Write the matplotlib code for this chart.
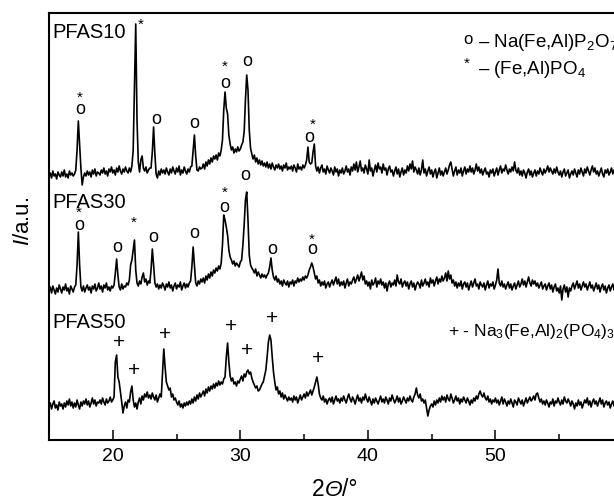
import numpy as np
import matplotlib
matplotlib.use('Agg')
import matplotlib.pyplot as plt
from matplotlib.ticker import MultipleLocator, FixedLocator

plt.rcParams['font.family'] = 'Liberation Sans'
plt.rcParams['mathtext.fontset'] = 'custom'
plt.rcParams['mathtext.rm'] = 'Liberation Sans'
plt.rcParams['mathtext.it'] = 'Liberation Sans:italic'

# scan 15-60 deg, step 0.1 deg
two_theta = np.linspace(15, 60, 451)

pfas10 = [
    3, 7, 2, 9, 4, 6, 1, 8, 5, 3,
    8, 4, 10, 3, 6, 2, 9, 5, 7, 4,
    6, 10, 30, 59, 35, 12, -5, 3, 7, 4,
    9, 5, 8, 3, 10, 6, 11, 4, 8, 7,
    5, 10, 7, 12, 6, 9, 4, 11, 8, 13,
    7, 10, 5, 12, 8, 14, 9, 6, 11, 8,
    13, 9, 7, 12, 8, 14, 30, 95, 156, 60,
    18, 8, 20, 24, 12, 9, 13, 7, 10, 12,
    12, 28, 53, 26, 6, 2, 9, 5, 11, 7,
    10, 6, 12, 8, 5, 11, 7, 13, 9, 6,
    12, 8, 14, 5, 10, 7, 13, 9, 6, 11,
    8, 13, 14, 30, 45, 24, 10, 9, 13, 11,
    12, 16, 11, 18, 14, 20, 16, 22, 18, 24,
    21, 25, 20, 27, 24, 30, 40, 70, 88, 72,
    66, 45, 36, 30, 33, 27, 31, 28, 33, 29,
    31, 35, 38, 48, 80, 105, 90, 50, 32, 26,
    21, 25, 18, 22, 16, 20, 15, 19, 14, 17,
    13, 18, 12, 16, 11, 17, 13, 10, 15, 12,
    16, 11, 14, 9, 15, 12, 17, 10, 13, 11,
    14, 9, 15, 12, 8, 16, 11, 13, 10, 15,
    12, 15, 20, 33, 18, 16, 17, 28, 36, 14,
    9, 13, 7, 12, 15, 8, 11, 6, 14, 10,
    7, 12, 9, 5, 13, 8, 11, 4, 10, 7,
    12, 6, 9, 14, 8, 11, 5, 13, 9, 16,
    10, 18, 8, 13, 19, 9, 12, 7, 15, 11,
    6, 20, 9, 12, 4, 10, 15, 8, 17, 11,
    13, 7, 16, 10, 12, 5, 11, 14, 8, 10,
    4, 9, 13, 6, 11, 3, 8, 12, 5, 10,
    7, 14, 9, 16, 11, 19, 8, 13, 10, 6,
    12, 5, 10, 20, 7, 11, 4, 9, 13, 6,
    10, 3, 8, 11, 2, 7, 12, 5, 9, 4,
    8, 12, 6, 10, 15, 18, 11, 4, 9, 13,
    5, 10, 7, 12, 4, 9, 13, 6, 11, 8,
    14, 8, 12, 6, 10, 16, 9, 13, 7, 11,
    5, 9, 12, 6, 8, 3, 10, 7, 11, 4,
    8, 12, 5, 10, 14, 7, 11, 9, 15, 10,
    6, 11, 8, 13, 9, 18, 10, 7, 12, 5,
    9, 4, 10, 7, 2, 8, 11, 5, 9, 3,
    7, 10, 4, 9, 6, 12, 8, 5, 11, 7,
    10, 14, 8, 12, 9, 6, 11, 7, 13, 8,
    5, 9, 3, 8, 11, 4, 7, 10, 2, 6,
    9, 5, 11, 7, 3, 10, 6, 12, 8, 4,
    11, 7, 13, 9, 5, 10, 14, 8, 12, 6,
    9, 4, 8, 12, 6, 3, 10, 7, 11, 5,
    8, 12, 6, 10, 4, 9, 7, 11, 5, 8,
    9,
]

pfas30 = [
    4, 8, 2, 9, 5, 1, 7, 3, 10, 6,
    2, 8, 5, 11, 4, 7, 1, 9, 6, 3,
    8, 10, 30, 63, 30, 8, 4, 9, 3, 7,
    10, 5, 8, 2, 9, 6, 11, 4, 7, 12,
    6, 9, 3, 10, 7, 12, 5, 8, 4, 9,
    7, 10, 22, 36, 20, 8, 5, 11, 6, 9,
    8, 12, 10, 15, 30, 35, 45, 55, 25, 12,
    9, 14, 11, 18, 22, 13, 16, 10, 14, 12,
    25, 46, 30, 12, 8, 11, 6, 10, 7, 12,
    9, 5, 11, 8, 13, 7, 10, 4, 9, 12,
    6, 10, 8, 13, 5, 9, 12, 7, 11, 8,
    12, 14, 28, 48, 30, 12, 9, 14, 11, 16,
    13, 17, 12, 19, 15, 21, 17, 23, 19, 25,
    22, 27, 24, 29, 26, 32, 50, 80, 75, 68,
    60, 45, 38, 35, 31, 34, 29, 32, 30, 28,
    33, 35, 50, 70, 95, 103, 75, 40, 30, 27,
    25, 22, 26, 19, 23, 20, 17, 21, 18, 20,
    17, 20, 22, 28, 37, 25, 18, 15, 19, 13,
    16, 11, 14, 9, 15, 12, 10, 14, 8, 13,
    11, 15, 9, 14, 12, 17, 13, 16, 14, 18,
    15, 19, 17, 20, 25, 28, 32, 28, 22, 16,
    19, 12, 15, 9, 13, 10, 14, 7, 11, 13,
    8, 12, 15, 10, 14, 18, 11, 16, 9, 13,
    10, 14, 7, 12, 16, 9, 13, 11, 15, 18,
    12, 16, 20, 14, 18, 23, 15, 19, 11, 14,
    9, 13, 6, 15, 10, 12, 17, 8, 14, 11,
    16, 10, 13, 7, 12, 4, 11, 14, 8, 12,
    10, 15, 9, 20, 13, 11, 16, 8, 12, 14,
    9, 13, 6, 11, 14, 8, 12, 5, 10, 13,
    11, 7, 15, 9, 12, 16, 10, 13, 8, 17,
    12, 15, 9, 14, 18, 11, 16, 13, 19, 14,
    17, 22, 14, 24, 16, 20, 12, 15, 9, 13,
    7, 12, 9, 14, 6, 11, 13, 8, 12, 5,
    10, 14, 8, 12, 16, 9, 11, 6, 13, 10,
    8, 12, 5, 10, 14, 7, 11, 9, 13, 6,
    10, 15, 26, 12, 9, 14, 8, 11, 6, 10,
    13, 7, 11, 5, 9, 12, 6, 10, 14, 8,
    11, 16, 10, 14, 8, 13, 18, 12, 9, 15,
    11, 14, 9, 12, 7, 10, 13, 6, 9, 11,
    5, 9, 12, 6, 10, 3, 8, 11, 4, 7,
    2, 9, -5, 6, 10, 3, 8, -2, 7, 4,
    9, 12, 6, 10, 14, 7, 11, 5, 9, 13,
    8, 11, 5, 9, 13, 7, 10, 4, 8, 12,
    6, 10, 3, 8, 11, 5, 9, 2, 7, 10,
    4, 8, 11, 5, 9, 2, 7, 10, 3, 6,
    8,
]

pfas50 = [
    5, 9, 3, 8, 11, 4, 7, 2, 10, 6,
    8, 3, 9, 5, 11, 7, 13, 6, 10, 4,
    9, 5, 12, 7, 3, 10, 6, 11, 8, 13,
    7, 11, 5, 9, 14, 8, 12, 6, 10, 9,
    12, 8, 14, 10, 7, 13, 9, 11, 15, 10,
    12, 15, 50, 57, 35, 30, 20, 10, -1, 6,
    10, 4, 12, 10, 20, 26, 12, 5, 9, 3,
    10, 14, 8, 16, 12, 18, 15, 20, 14, 17,
    13, 19, 15, 12, 17, 10, 14, 18, 15, 40,
    63, 45, 30, 26, 22, 24, 15, 18, 12, 14,
    10, 7, 11, 5, 8, 4, 9, 6, 10, 7,
    11, 8, 13, 9, 15, 11, 17, 13, 19, 15,
    18, 21, 16, 23, 19, 25, 21, 26, 23, 28,
    24, 29, 26, 31, 27, 30, 28, 33, 35, 55,
    69, 50, 36, 31, 34, 28, 30, 26, 31, 29,
    33, 36, 31, 38, 35, 40, 42, 38, 40, 34,
    30, 27, 24, 26, 21, 22, 25, 28, 30, 36,
    42, 55, 70, 77, 72, 55, 40, 30, 22, 25,
    18, 21, 15, 19, 13, 17, 14, 11, 15, 12,
    14, 10, 16, 12, 15, 9, 13, 17, 12, 15,
    18, 14, 20, 16, 19, 22, 17, 21, 25, 30,
    35, 28, 18, 14, 12, 16, 10, 13, 8, 12,
    14, 10, 15, 8, 12, 16, 11, 13, 9, 14,
    11, 16, 12, 9, 14, 18, 13, 10, 15, 12,
    8, 13, 17, 11, 14, 9, 15, 12, 18, 13,
    10, 15, 11, 7, 13, 9, 14, 11, 8, 12,
    16, 10, 13, 9, 15, 12, 8, 14, 11, 17,
    13, 9, 12, 16, 10, 14, 8, 11, 15, 12,
    9, 14, 11, 16, 12, 10, 15, 18, 24, 17,
    14, 18, 11, 13, 9, 12, 4, -4, 2, 6,
    8, 5, 11, 7, 12, 9, 14, 10, 16, 12,
    15, 10, 17, 13, 11, 18, 14, 9, 12, 16,
    11, 14, 8, 13, 10, 15, 12, 9, 14, 11,
    7, 12, 9, 14, 11, 16, 13, 18, 21, 17,
    15, 19, 14, 12, 16, 10, 13, 8, 12, 10,
    14, 9, 12, 7, 11, 15, 8, 13, 10, 6,
    11, 8, 13, 9, 5, 12, 10, 7, 14, 11,
    8, 12, 6, 10, 14, 9, 12, 15, 11, 13,
    16, 12, 18, 19, 14, 10, 13, 8, 11, 7,
    12, 9, 5, 10, 8, 13, 6, 11, 9, 14,
    10, 7, 12, 8, 15, 11, 9, 13, 10, 6,
    11, 8, 3, 9, 6, 12, 7, 10, 4, 8,
    12, 9, 14, 7, 11, 5, 10, 13, 8, 11,
    6, 10, 14, 8, 12, 5, 9, 11, 7, 10,
    4, 8, 11, 6, 9, 3, 7, 10, 5, 8,
    6,
]

samples = ['PFAS10', 'PFAS30', 'PFAS50']
offsets = [260, 145, 28]
label_y = [407, 237, 117]

# phase marks: (2theta, height, symbol)
marks10 = [(17.43, 342, '*'), (17.43, 330, 'o'), (22.22, 415, '*'),
           (23.39, 320, 'o'), (26.37, 317, 'o'), (28.80, 373, '*'),
           (28.80, 357, 'o'), (30.53, 378, 'o'), (35.39, 302, 'o'),
           (35.71, 315, '*')]
marks30 = [(17.35, 227, '*'), (17.35, 214, 'o'), (20.33, 192, 'o'),
           (21.67, 217, '*'), (23.16, 203, 'o'), (26.37, 207, 'o'),
           (28.80, 247, '*'), (28.73, 233, 'o'), (30.37, 265, 'o'),
           (32.49, 190, 'o'), (35.63, 200, '*'), (35.63, 190, 'o')]
marks50 = [(20.49, 97, '+'), (21.67, 69, '+'), (24.10, 105, '+'),
           (29.27, 114, '+'), (30.53, 89, '+'), (32.49, 122, '+'),
           (36.10, 82, '+')]

fig = plt.figure(figsize=(6.14, 5.01), dpi=100)
ax = fig.add_axes([49 / 614, 61 / 501, 574 / 614, 427 / 501])

for data, off, name, ly in zip([pfas10, pfas30, pfas50], offsets, samples, label_y):
    ax.plot(two_theta, np.array(data) + off, color='black', lw=1.2)
    ax.text(15.3, ly, name, fontsize=14.5, ha='left', va='center')

sizes = {'o': 13, '*': 11, '+': 15}
for x, y, s in marks10 + marks30 + marks50:
    ax.text(x, y, s, fontsize=sizes[s], ha='center', va='center')

# phase legend
ax.text(47.86, 400, 'o', fontsize=12, ha='center', va='center')
ax.text(48.6, 393, r'– Na(Fe,Al)P$_2$O$_7$', fontsize=13.5, ha='left', va='baseline')
ax.text(47.78, 376, '*', fontsize=11, ha='center', va='center')
ax.text(48.6, 366, r'– (Fe,Al)PO$_4$', fontsize=13.5, ha='left', va='baseline')
ax.text(46.3, 104, r'+ - Na$_3$(Fe,Al)$_2$(PO$_4$)$_3$', fontsize=12.5,
        ha='left', va='baseline')

ax.set_xlim(15, 60)
ax.set_ylim(0, 427)
ax.xaxis.set_major_locator(FixedLocator([20, 30, 40, 50]))
ax.xaxis.set_minor_locator(MultipleLocator(5))
ax.tick_params(axis='x', which='major', direction='in', length=7, width=1.1,
               labelsize=14, pad=6)
ax.tick_params(axis='x', which='minor', direction='in', length=4.5, width=1.1)
ax.set_yticks([])
for sp in ax.spines.values():
    sp.set_linewidth(1.5)

# axis titles: italic Theta needs plain text pieces (mathtext keeps Greek capitals upright)
t = ax.annotate('2', xy=(312, 5), xycoords='figure pixels', fontsize=16.5,
                ha='left', va='baseline', annotation_clip=False)
for piece, style in [('Θ', 'italic'), ('/°', 'normal')]:
    t = ax.annotate(piece, xy=(1, 5), xycoords=(t, 'figure pixels'), fontsize=16.5,
                    fontstyle=style, ha='left', va='baseline', annotation_clip=False)
fig.text(24 / 614, 1 - 221 / 501, r'$\mathit{I}$/a.u.', fontsize=16,
         rotation=90, ha='center', va='center')

fig.savefig('out.png', dpi=100)
